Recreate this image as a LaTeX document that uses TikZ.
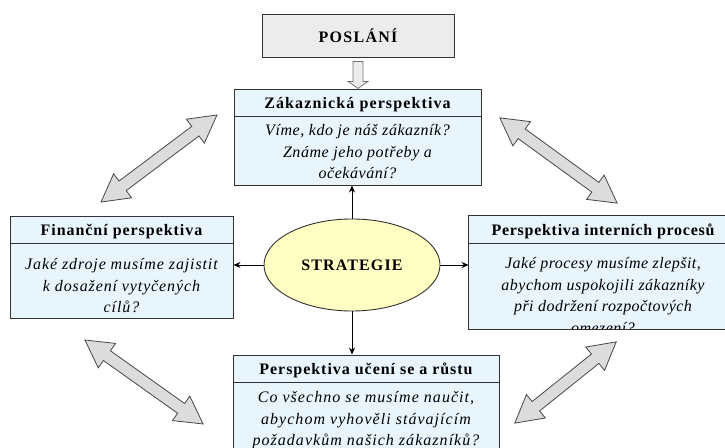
\documentclass[tikz,border=0pt]{standalone}
\usepackage{fontspec}
\setmainfont{Liberation Serif}
\usetikzlibrary{positioning,shapes.geometric,arrows.meta,calc}

\definecolor{boxblue}{RGB}{232,245,253}
\definecolor{ellyellow}{RGB}{255,255,196}
\definecolor{boxgray}{RGB}{236,236,236}
\definecolor{arrowgray}{RGB}{220,220,220}
\definecolor{edge}{RGB}{50,50,50}

\tikzset{
  persp/.style={draw=edge, fill=boxblue, line width=0.9pt, inner sep=0pt},
  headtext/.style={font=\bfseries\fontsize{16}{18}\selectfont\addfontfeature{LetterSpace=#1}},
  headtext/.default=0,
  bodytext/.style={font=\itshape\fontsize{16}{21.5}\selectfont\addfontfeature{LetterSpace=#1},
    align=center, inner sep=0pt},
  bodytext/.default=0,
  link/.style={-{Stealth[length=7pt,width=6pt]}, line width=0.8pt},
  bigarr/.style={draw=edge!90, fill=arrowgray, line width=0.8pt, line join=miter},
}

% double arrow: centre, angle, half length
\newcommand{\bigarrow}[3]{%
  \begin{scope}[shift={#1}, rotate=#2]
    \draw[bigarr] (-#3,0) -- (-#3+27,15) -- (-#3+27,6) -- (#3-27,6) -- (#3-27,15)
      -- (#3,0) -- (#3-27,-15) -- (#3-27,-6) -- (-#3+27,-6) -- (-#3+27,-15) -- cycle;
  \end{scope}}

\begin{document}
\begin{tikzpicture}[x=1pt, y=1pt]
  \useasboundingbox (0,0) rectangle (725,447);

  % mission
  \node[draw=edge, fill=boxgray, line width=0.9pt, minimum width=192pt, minimum height=43pt,
        headtext=8] (posl) at (358,411.5) {POSLÁNÍ};

  % customer
  \node[persp, minimum width=247pt, minimum height=96pt] (zak) at (357.5,310) {};
  \draw[persp] ([yshift=-28pt]zak.north west) -- ([yshift=-28pt]zak.north east);
  \node[headtext=7] (zakh) at ([yshift=-16pt]zak.north) {Zákaznická perspektiva};
  \node[bodytext=3.5, anchor=north] (zakb) at ([yshift=-36pt]zak.north)
    {Víme, kdo je náš zákazník?\\Známe jeho potřeby a\\očekávání?};

  % hollow arrow from mission
  \draw[fill=boxgray, draw=edge!70, line width=0.7pt]
    ($(posl.south)+(-5,-4)$) -- ++(10,0) -- ++(0,-20) -- ++(5,0) -- ++(-10,-7)
    -- ++(-10,7) -- ++(5,0) -- cycle;

  % finance
  \node[persp, minimum width=223pt, minimum height=102pt] (fin) at (121.5,180) {};
  \draw[persp] ([yshift=-28pt]fin.north west) -- ([yshift=-28pt]fin.north east);
  \node[headtext=6] (finh) at ([yshift=-16pt]fin.north) {Finanční perspektiva};
  \node[bodytext=5.5, anchor=north] (finb) at ([yshift=-43pt]fin.north)
    {Jaké zdroje musíme zajistit\\k dosažení vytyčených\\cílů?};

  % internal processes
  \node[persp, draw=none, minimum width=268pt, minimum height=113pt] (int) at (603,174.5) {};
  \draw[persp] ([yshift=-28pt]int.north west) -- ([yshift=-28pt]int.north east);
  \node[headtext=4.5] (inth) at ([yshift=-16pt]int.north) {Perspektiva interních procesů};
  \begin{scope}
    \clip (int.south west) rectangle ([yshift=-29pt]int.north east);
    \node[bodytext=3, anchor=north] (intb) at ([yshift=-42pt]int.north)
      {Jaké procesy musíme zlepšit,\\abychom uspokojili zákazníky\\při dodržení rozpočtových\\omezení?};
  \end{scope}
  \draw[draw=edge, line width=0.9pt] (int.south west) rectangle (int.north east);

  % learning and growth
  \node[persp, minimum width=266pt, minimum height=110pt] (ucen) at (366,37) {};
  \draw[persp] ([yshift=-28pt]ucen.north west) -- ([yshift=-28pt]ucen.north east);
  \node[headtext=6] (ucenh) at ([yshift=-16pt]ucen.north) {Perspektiva učení se a růstu};
  \node[bodytext=6.5, anchor=north] (ucenb) at ([yshift=-37pt]ucen.north)
    {Co všechno se musíme naučit,\\abychom vyhověli stávajícím\\požadavkům našich zákazníků?};

  % strategy
  \node[ellipse, draw=edge, fill=ellyellow, line width=0.9pt, minimum width=176pt, minimum height=92pt,
        headtext=7] (str) at (352,182) {STRATEGIE};

  \draw[link] (str.north) -- (str.north |- zak.south);
  \draw[link] (str.south) -- (str.south |- ucen.north);
  \draw[link] (str.west) -- (str.west -| fin.east);
  \draw[link] (str.east) -- (str.east -| int.west);

  % links between perspectives
  \bigarrow{(159,288.5)}{36.9}{72.5}
  \bigarrow{(558.5,286.5)}{-36}{72.5}
  \bigarrow{(144,65)}{-35.4}{72.5}
  \bigarrow{(565.5,64.5)}{38.7}{65}
\end{tikzpicture}
\end{document}
